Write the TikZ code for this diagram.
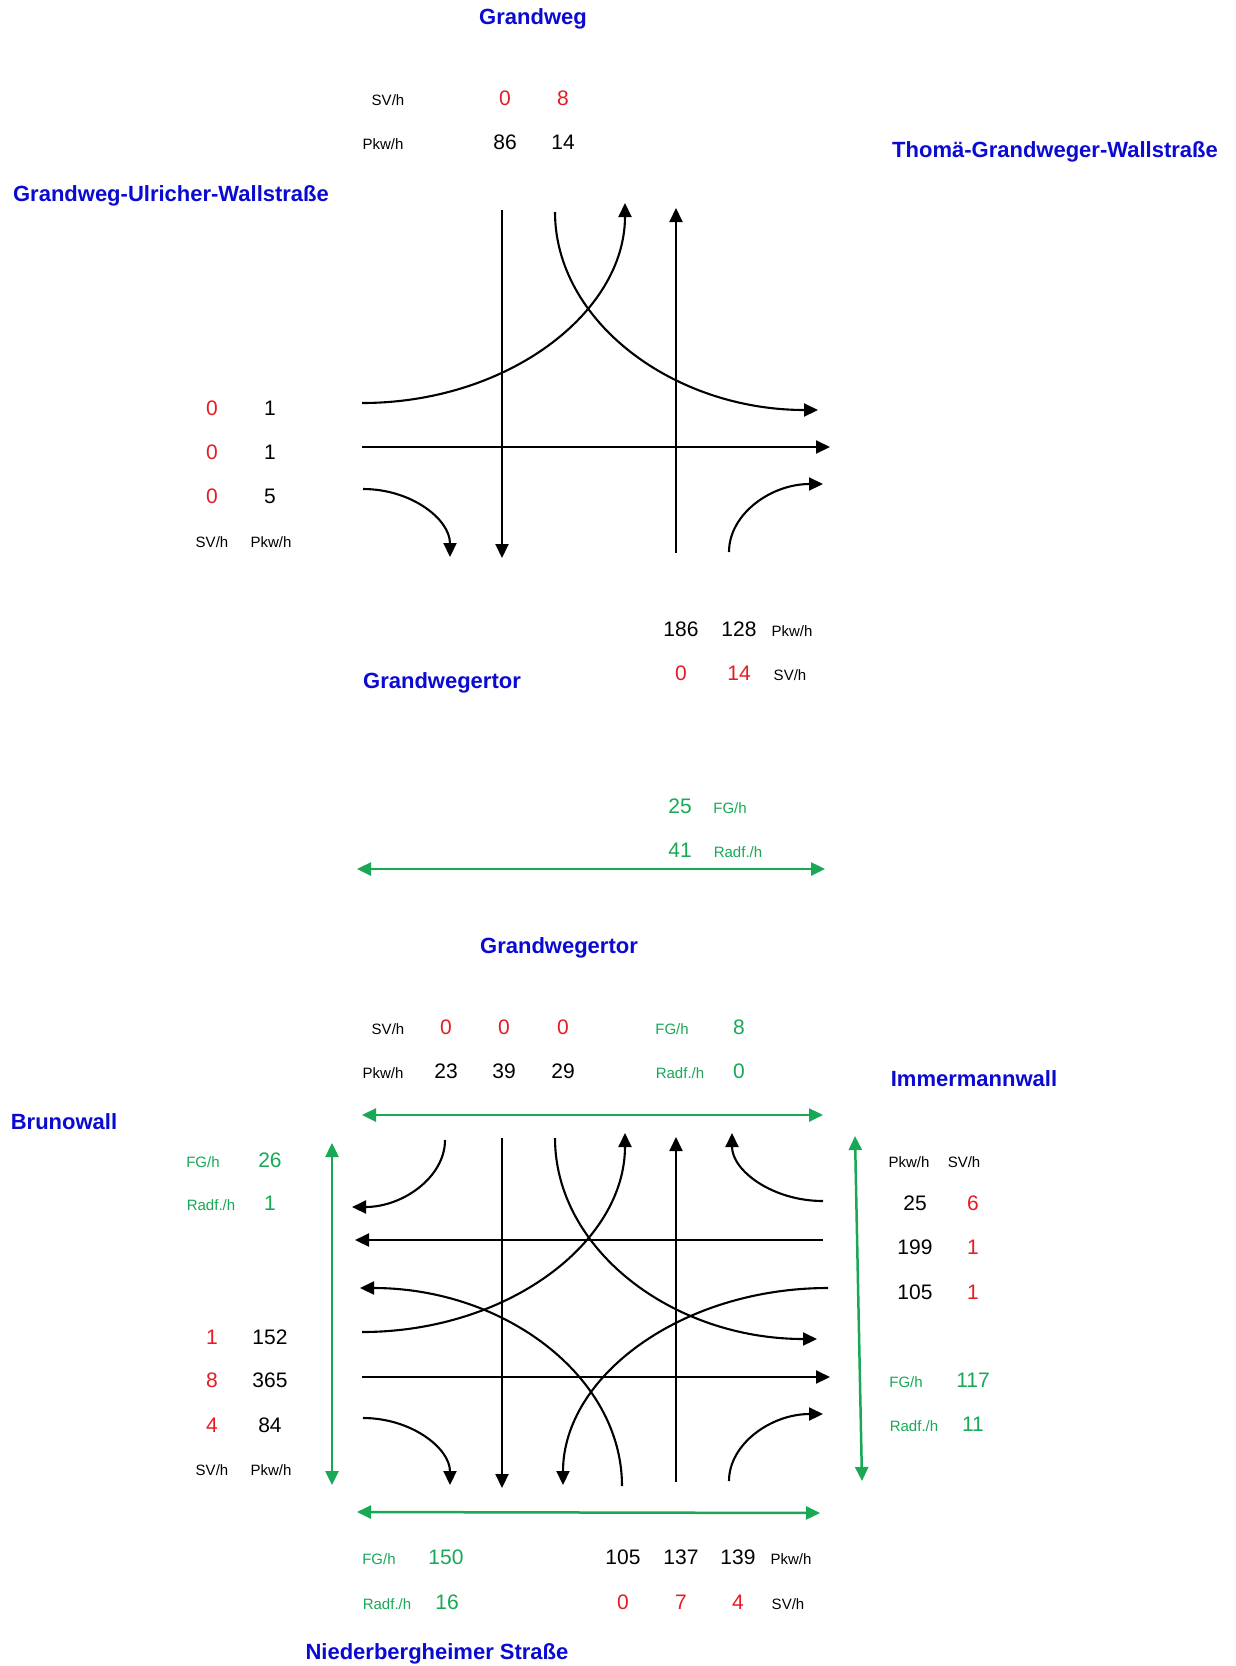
\documentclass[tikz,border=0pt]{standalone}
\usepackage{fontspec}
\setmainfont{Liberation Sans}
\usetikzlibrary{arrows.meta}
\definecolor{tblue}{RGB}{10,10,210}
\definecolor{tred}{RGB}{228,28,36}
\definecolor{tgreen}{RGB}{24,168,86}
\begin{document}
\begin{tikzpicture}[x=1pt,y=-1pt,
 lbl/.style={inner sep=0pt, text height=0.72em, text depth=0pt, yshift=-3.5pt},
 num/.style={lbl, font=\fontsize{21}{25}\selectfont},
 rnum/.style={num, text=tred},
 gnum/.style={num, text=tgreen},
 unit/.style={lbl, font=\fontsize{15}{18}\selectfont},
 gunit/.style={unit, text=tgreen},
 title/.style={lbl, font=\fontsize{22}{26}\selectfont\bfseries, text=tblue},
 flow/.style={line width=2.1pt, -{Triangle[length=14pt,width=13pt]}},
 ped/.style={line width=2.5pt, draw=tgreen, {Triangle[length=14pt,width=13pt]}-{Triangle[length=14pt,width=13pt]}},
]
\fill[white] (0,0) rectangle (1235,1666);
\useasboundingbox (0,0) rectangle (1235,1666);

% ---------------- Titles ----------------
\node[title] (tGrandweg) at (533,17) {Grandweg};
\node[title] (tThoma) at (1055,150) {Thomä-Grandweger-Wallstraße};
\node[title] (tUlrich) at (171,194) {Grandweg-Ulricher-Wallstraße};
\node[title] (tTor1) at (442,681) {Grandwegertor};
\node[title] (tTor2) at (559,946) {Grandwegertor};
\node[title] (tImmer) at (974,1079) {Immermannwall};
\node[title] (tBruno) at (64,1122) {Brunowall};
\node[title] (tNieder) at (437,1652) {Niederbergheimer Straße};

% ---------------- Top intersection: labels ----------------
\node[unit] (u1) at (388,98) {SV/h};
\node[rnum] (n1) at (505,98) {0};
\node[rnum] (n2) at (563,98) {8};
\node[unit] (u2) at (383,142) {Pkw/h};
\node[num] (n3) at (505,142) {86};
\node[num] (n4) at (563,142) {14};

\node[rnum] (n5) at (212,408) {0};
\node[num]  (n6) at (270,408) {1};
\node[rnum] (n7) at (212,452) {0};
\node[num]  (n8) at (270,452) {1};
\node[rnum] (n9) at (212,496) {0};
\node[num]  (n10) at (270,496) {5};
\node[unit] (u3) at (212,540) {SV/h};
\node[unit] (u4) at (271,540) {Pkw/h};

\node[num] (n11) at (681,629) {186};
\node[num] (n12) at (739,629) {128};
\node[unit] (u5) at (792,629) {Pkw/h};
\node[rnum] (n13) at (681,673) {0};
\node[rnum] (n14) at (739,673) {14};
\node[unit] (u6) at (790,673) {SV/h};

% ---------------- Top intersection: flows ----------------
\coordinate (a1) at (502,210);  \coordinate (b1) at (502,558);
\coordinate (a2) at (676,553);  \coordinate (b2) at (676,208);
\coordinate (a3) at (362,447);  \coordinate (b3) at (830,447);
\coordinate (a4) at (362,403);  \coordinate (b4) at (625,203);
\coordinate (a5) at (555,212);  \coordinate (b5) at (818,410);
\coordinate (a6) at (363,489);  \coordinate (b6) at (450,557);
\coordinate (a7) at (729,552);  \coordinate (b7) at (823,484);
\draw[flow] (a1) -- (b1);
\draw[flow] (a2) -- (b2);
\draw[flow] (a3) -- (b3);
\draw[flow] (a4) .. controls (507,403) and (625,313) .. (b4);
\draw[flow] (a5) .. controls (555,321) and (673,410) .. (b5);
\draw[flow] (a6) .. controls (411,489) and (450,519) .. (b6);
\draw[flow] (a7) .. controls (729,514) and (771,484) .. (b7);

% ---------------- Pedestrian crossing between ----------------
\node[gnum] (n15) at (680,806) {25};
\node[gunit] (u7) at (730,806) {FG/h};
\node[gnum] (n16) at (680,850) {41};
\node[gunit] (u8) at (738,850) {Radf./h};
\coordinate (g1a) at (357,869); \coordinate (g1b) at (825,869);
\draw[ped] (g1a) -- (g1b);

% ---------------- Bottom intersection: labels ----------------
\node[unit] (u9) at (388,1027) {SV/h};
\node[rnum] (n17) at (446,1027) {0};
\node[rnum] (n18) at (504,1027) {0};
\node[rnum] (n19) at (563,1027) {0};
\node[gunit] (u10) at (672,1027) {FG/h};
\node[gnum] (n20) at (739,1027) {8};
\node[unit] (u11) at (383,1071) {Pkw/h};
\node[num] (n21) at (446,1071) {23};
\node[num] (n22) at (504,1071) {39};
\node[num] (n23) at (563,1071) {29};
\node[gunit] (u12) at (680,1071) {Radf./h};
\node[gnum] (n24) at (739,1071) {0};

\node[gunit] (u13) at (203,1160) {FG/h};
\node[gnum] (n25) at (270,1160) {26};
\node[gunit] (u14) at (211,1203) {Radf./h};
\node[gnum] (n26) at (270,1203) {1};
\node[rnum] (n27) at (212,1337) {1};
\node[num]  (n28) at (270,1337) {152};
\node[rnum] (n29) at (212,1380) {8};
\node[num]  (n30) at (270,1380) {365};
\node[rnum] (n31) at (212,1425) {4};
\node[num]  (n32) at (270,1425) {84};
\node[unit] (u15) at (212,1468) {SV/h};
\node[unit] (u16) at (271,1468) {Pkw/h};

\node[unit] (u17) at (909,1160) {Pkw/h};
\node[unit] (u18) at (964,1160) {SV/h};
\node[num]  (n33) at (915,1203) {25};
\node[rnum] (n34) at (973,1203) {6};
\node[num]  (n35) at (915,1247) {199};
\node[rnum] (n36) at (973,1247) {1};
\node[num]  (n37) at (915,1292) {105};
\node[rnum] (n38) at (973,1292) {1};
\node[gunit] (u19) at (906,1380) {FG/h};
\node[gnum] (n39) at (973,1380) {117};
\node[gunit] (u20) at (914,1424) {Radf./h};
\node[gnum] (n40) at (973,1424) {11};

\node[gunit] (u21) at (379,1557) {FG/h};
\node[gnum] (n41) at (446,1557) {150};
\node[gunit] (u22) at (387,1602) {Radf./h};
\node[gnum] (n42) at (447,1602) {16};
\node[num] (n43) at (623,1557) {105};
\node[num] (n44) at (681,1557) {137};
\node[num] (n45) at (738,1557) {139};
\node[unit] (u23) at (791,1557) {Pkw/h};
\node[rnum] (n46) at (623,1602) {0};
\node[rnum] (n47) at (681,1602) {7};
\node[rnum] (n48) at (738,1602) {4};
\node[unit] (u24) at (788,1602) {SV/h};

% ---------------- Bottom intersection: pedestrian arrows ----------------
\coordinate (g2a) at (362,1115); \coordinate (g2b) at (823,1115);
\coordinate (g3a) at (332,1143); \coordinate (g3b) at (332,1485);
\coordinate (g4a) at (855,1136); \coordinate (g4b) at (862,1481);
\coordinate (g5a) at (357,1512); \coordinate (g5b) at (820,1513);
\draw[ped] (g2a) -- (g2b);
\draw[ped] (g3a) -- (g3b);
\draw[ped] (g4a) -- (g4b);
\draw[ped] (g5a) -- (g5b);

% ---------------- Bottom intersection: flows ----------------
\coordinate (c1) at (445,1140);  \coordinate (d1) at (352,1207);
\coordinate (c2) at (502,1138);  \coordinate (d2) at (502,1488);
\coordinate (c3) at (555,1138);  \coordinate (d3) at (817,1339);
\coordinate (c4) at (362,1332);  \coordinate (d4) at (625,1133);
\coordinate (c5) at (676,1482);  \coordinate (d5) at (676,1137);
\coordinate (c6) at (823,1201);  \coordinate (d6) at (732,1133);
\coordinate (c7) at (823,1240);  \coordinate (d7) at (355,1240);
\coordinate (c8) at (828,1288);  \coordinate (d8) at (563,1485);
\coordinate (c9) at (622,1486);  \coordinate (d9) at (360,1288);
\coordinate (c10) at (362,1377); \coordinate (d10) at (830,1377);
\coordinate (c11) at (363,1418); \coordinate (d11) at (450,1485);
\coordinate (c12) at (729,1481); \coordinate (d12) at (823,1414);
\draw[flow] (c1) .. controls (445,1177) and (403,1207) .. (d1);
\draw[flow] (c2) -- (d2);
\draw[flow] (c3) .. controls (555,1249) and (672,1339) .. (d3);
\draw[flow] (c4) .. controls (507,1332) and (625,1243) .. (d4);
\draw[flow] (c5) -- (d5);
\draw[flow] (c6) .. controls (773,1201) and (732,1171) .. (d6);
\draw[flow] (c7) -- (d7);
\draw[flow] (c8) .. controls (682,1288) and (563,1376) .. (d8);
\draw[flow] (c9) .. controls (622,1377) and (505,1288) .. (d9);
\draw[flow] (c10) -- (d10);
\draw[flow] (c11) .. controls (411,1418) and (450,1448) .. (d11);
\draw[flow] (c12) .. controls (729,1444) and (771,1414) .. (d12);
\end{tikzpicture}
\end{document}
